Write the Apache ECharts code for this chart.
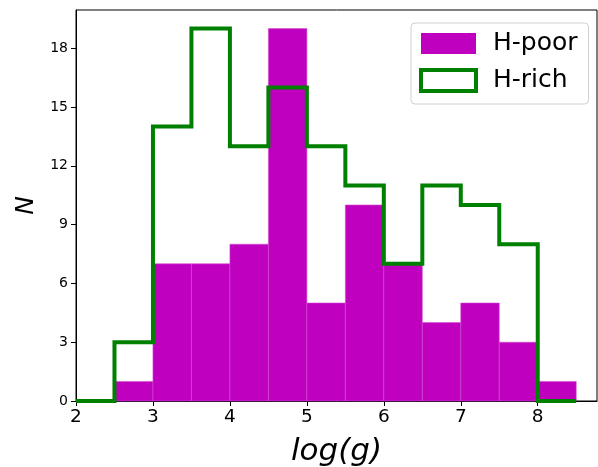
<!DOCTYPE html>
<html><head><meta charset="utf-8">
<script src="https://cdn.jsdelivr.net/npm/echarts@6/dist/echarts.min.js"></script>
<style>html,body{margin:0;padding:0;background:#fff}#c{width:598px;height:467px}</style>
</head><body><div id="c"></div>
<script>
// H-poor histogram: bin left edges and counts (bin width 0.5)
const poorBinStarts = [2.5, 3.0, 3.5, 4.0, 4.5, 5.0, 5.5, 6.0, 6.5, 7.0, 7.5, 8.0];
const poorCounts    = [1,   7,   7,   8,   19,  5,   10,  7,   4,   5,   3,   1];
// H-rich step outline: bin left edges and counts
const richBinStarts = [2.0, 2.5, 3.0, 3.5, 4.0, 4.5, 5.0, 5.5, 6.0, 6.5, 7.0, 7.5, 8.0, 8.5];
const richCounts    = [0,   3,   14,  19,  13,  16,  13,  11,  7,   11,  10,  8,   0,   0];
const binWidth = 0.5;
const yTicks = [0, 3, 6, 9, 12, 15, 18];
const xTicks = [2, 3, 4, 5, 6, 7, 8];

const chart = echarts.init(document.getElementById('c'), null, {renderer: 'canvas'});
const poorData = poorBinStarts.map((x, i) => [x, poorCounts[i]]);
const richData = richBinStarts.map((x, i) => [x, richCounts[i]]);
const font = 'DejaVu Sans';
chart.setOption({
  animation: false,
  backgroundColor: '#fff',
  grid: {left: 76, right: 1, top: 10, bottom: 66, show: true, borderColor: '#000', borderWidth: 1,
    containLabel: false, outerBoundsMode: 'none'},
  xAxis: {
    type: 'value', min: 2, max: 8.77, interval: 1,
    splitLine: {show: false},
    axisLine: {show: true, onZero: false, lineStyle: {color: '#000', width: 1}},
    axisTick: {show: true, inside: false, length: 5, lineStyle: {color: '#000'}},
    axisLabel: {color: '#000', fontFamily: font, fontSize: 18.5, margin: 7, showMaxLabel: false,
      formatter: v => xTicks.includes(v) ? String(v) : ''},
    name: 'log(g)', nameLocation: 'middle', nameGap: 35,
    nameTextStyle: {fontFamily: font, fontStyle: 'italic', fontSize: 31, color: '#000'}
  },
  yAxis: {
    type: 'value', min: 0, max: 19.95, interval: 3,
    splitLine: {show: false},
    axisLine: {show: true, lineStyle: {color: '#000', width: 1}},
    axisTick: {show: true, length: 5, lineStyle: {color: '#000'}},
    axisLabel: {color: '#000', fontFamily: font, fontSize: 14, margin: 8, showMaxLabel: false,
      formatter: v => yTicks.includes(v) ? String(v) : ''},
    name: 'N', nameLocation: 'middle', nameGap: 36, nameRotate: 90,
    nameTextStyle: {fontFamily: font, fontStyle: 'italic', fontSize: 25, color: '#000'}
  },
  legend: {
    left: 411, top: 23, orient: 'vertical',
    padding: [8, 11, 11, 8], itemGap: 12,
    itemWidth: 55, itemHeight: 21,
    backgroundColor: '#fff', borderColor: '#d0d0d0', borderWidth: 1, borderRadius: 4,
    textStyle: {fontFamily: font, fontSize: 25, color: '#000', padding: [0, 0, 0, 12]},
    data: [
      {name: 'H-poor', icon: 'rect', itemStyle: {color: '#bf00bf', borderWidth: 0}},
      {name: 'H-rich', icon: 'rect', itemStyle: {color: '#fff', borderColor: '#008000', borderWidth: 4}}
    ]
  },
  series: [
    {
      name: 'H-poor', type: 'custom', z: 2,
      itemStyle: {color: '#bf00bf'},
      data: poorData,
      encode: {x: 0, y: 1},
      renderItem: (params, api) => {
        const x0 = api.value(0), v = api.value(1);
        const p0 = api.coord([x0, v]);
        const p1 = api.coord([x0 + binWidth, 0]);
        return {type: 'rect', shape: {x: p0[0], y: p0[1], width: p1[0] - p0[0], height: p1[1] - p0[1]},
          style: {fill: '#bf00bf', stroke: '#d14cd1', lineWidth: 0.6}};
      }
    },
    {
      name: 'H-rich', type: 'line', step: 'end', z: 3,
      data: richData, showSymbol: false, symbol: 'none',
      lineStyle: {color: '#008000', width: 4, join: 'miter'},
      itemStyle: {color: '#008000'}
    }
  ]
});
</script></body></html>
